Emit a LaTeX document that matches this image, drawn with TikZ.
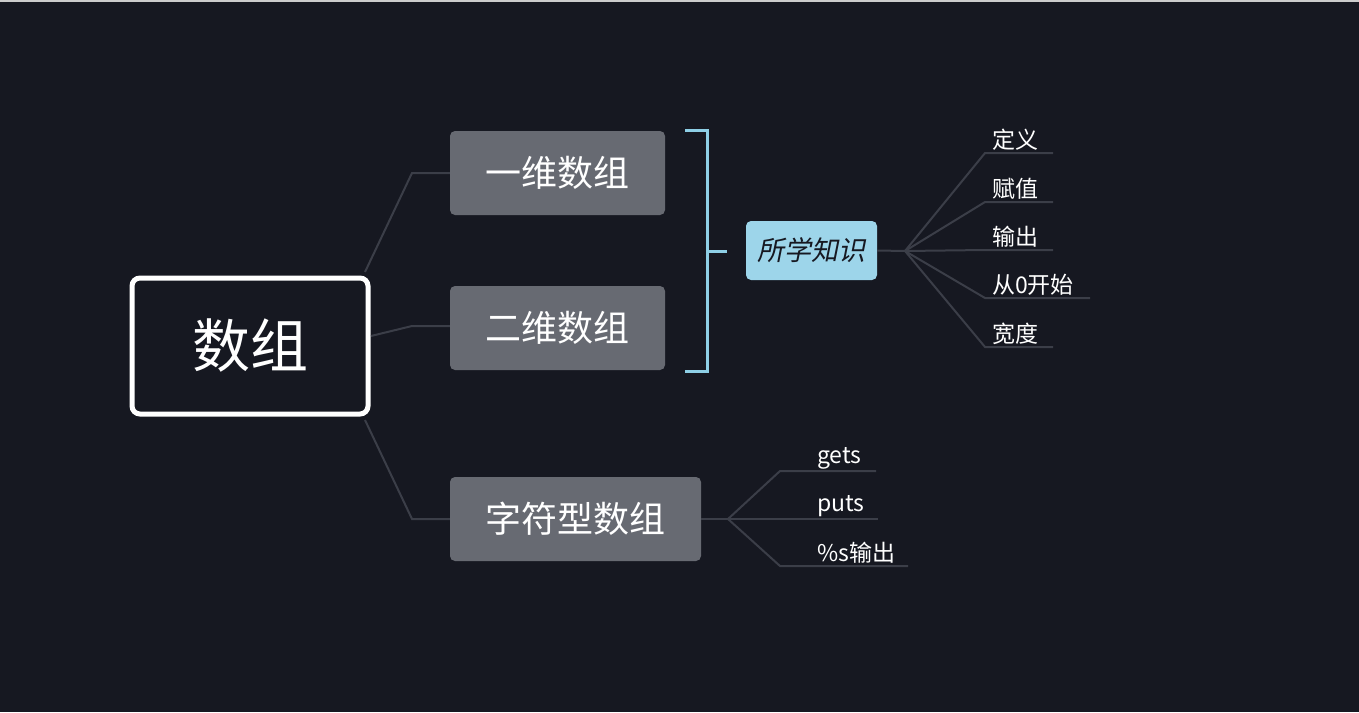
\documentclass[tikz,border=0pt]{standalone}
\usepackage{fontspec}
\setmainfont{Noto Sans CJK SC}
\definecolor{bg}{HTML}{161821}
\definecolor{ln}{HTML}{3B3E48}
\definecolor{gbox}{HTML}{676A72}
\definecolor{bl}{HTML}{8ECFE6}
\definecolor{blf}{HTML}{9DD5EA}
\tikzset{
 conn/.style={draw=ln,line width=2pt},
 sub/.style={fill=gbox,rounded corners=5pt,text=white,font=\fontsize{36}{40}\selectfont,inner sep=0pt},
 leaf/.style={text=white,font=\fontsize{23}{26}\selectfont,anchor=south west,inner sep=2pt},
}
\begin{document}
\begin{tikzpicture}[x=1pt,y=-1pt]
\useasboundingbox (0,0) rectangle (1359,712);
\fill[bg] (0,0) rectangle (1359,712);
\fill[white!80!black] (0,0) rectangle (1359,2);
% root
\node[draw=white,line width=5pt,rounded corners=8pt,minimum width=236pt,minimum height=136pt,text=white,font=\fontsize{58}{64}\selectfont] (root) at (250,346) {数组};
\node[sub,minimum width=215pt,minimum height=84pt] (a) at (557.5,173) {一维数组};
\node[sub,minimum width=215pt,minimum height=84pt] (b) at (557.5,328) {二维数组};
\node[sub,minimum width=251pt,minimum height=84pt] (c) at (575.5,519) {字符型数组};
\coordinate (ra) at (365,272);
\coordinate (rb) at (371,336);
\coordinate (rc) at (365,420);
\draw[conn] (ra) -- (412,173) -- (a.west);
\draw[conn] (rb) -- (412,326) -- (a.west |- 0,326);
\draw[conn] (rc) -- (412,519) -- (c.west);
% bracket
\draw[bl,line width=3pt] (685,130) -- (707,130) -- (707,371) -- (685,371);
\draw[bl,line width=3pt] (707,251) coordinate (bm) -- (727,251);
\node[fill=blf,rounded corners=5pt,minimum width=131pt,minimum height=59pt,inner sep=0pt,text=bg,font=\fontsize{27}{30}\selectfont] (k) at (811.5,250.5) {\addfontfeature{FakeSlant=0.2}所学知识};
\coordinate (kh) at (905,251);
\draw[conn] (k.east) -- (kh);
\foreach \t/\y/\e/\n in {定义/153/1053/k1,赋值/202/1053/k2,输出/250/1053/k3,从0开始/298/1090/k4,宽度/347/1053/k5}{
 \node[leaf] (\n) at (990,\y) {\t};
 \draw[conn] (kh) -- (985,\y) -- (\e,\y);
}
\coordinate (ch) at (728,519);
\draw[conn] (c.east) -- (ch);
\foreach \t/\y/\e/\n in {gets/471/876/s1,puts/519/878/s2,\%s输出/566/908/s3}{
 \node[leaf] (\n) at (815,\y) {\t};
 \draw[conn] (ch) -- (780,\y) -- (\e,\y);
}
\end{tikzpicture}
\end{document}
